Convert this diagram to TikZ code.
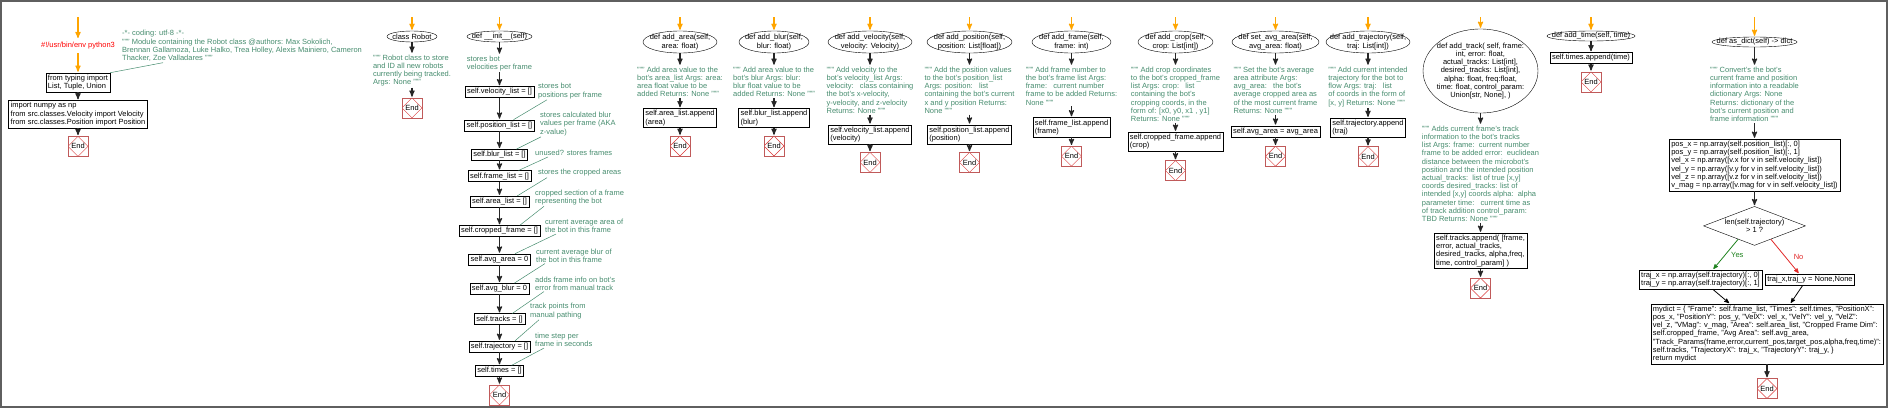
\documentclass[tikz,border=0pt]{standalone}
\usepackage{fontspec}
\setmainfont{Liberation Sans}
\usetikzlibrary{arrows,positioning,shapes.geometric,calc}
\definecolor{notegreen}{RGB}{70,140,110}
\definecolor{stopred}{RGB}{192,90,90}
\definecolor{startorange}{RGB}{255,165,0}
\definecolor{yesgreen}{RGB}{30,130,30}
\definecolor{nored}{RGB}{225,40,40}
\definecolor{framegray}{RGB}{95,95,95}

\begin{document}
\begin{tikzpicture}[x=1pt,y=-1pt,>=stealth',shorten >=1pt,
  font=\fontsize{7.5}{8.2}\selectfont,
  func node/.style={ellipse,draw,fill=white,align=center,inner sep=-30pt,minimum height=22pt},
  code box/.style={rectangle,draw,fill=white,align=left,inner xsep=2pt,inner ysep=2pt},
  one line/.style={text height=5.5pt,text depth=1.5pt},
  note text/.style={text=notegreen,align=left,inner sep=1pt},
  stop node/.style={rectangle,draw=stopred,minimum size=20pt,inner sep=0pt,
    path picture={\draw[stopred!60!red]
      (path picture bounding box.north) -- (path picture bounding box.east) --
      (path picture bounding box.south) -- (path picture bounding box.west) -- cycle;}},
  flow/.style={->,line width=1.2pt,black!85},
  start arrow/.style={->,line width=1.2pt,startorange},
  note line/.style={notegreen,line width=0.5pt,shorten >=0pt}]

  \useasboundingbox (0,0) rectangle (1891,410);
  \draw[framegray,line width=1.5pt] (1,1) rectangle (1887,407);

  % module head
  \coordinate (o1) at (78,17);
  \node[text=red] (shebang) at (78,46) {\#!/usr/bin/env python3};
  \node[code box] (imp1) at (78,82.5) {from typing import\\List, Tuple, Union};
  \node[code box] (imp2) [below=8pt of imp1] {import numpy as np\\from src.classes.Velocity import Velocity\\from src.classes.Position import Position};
  \node[stop node] (end1) [below=8pt of imp2] {End};
  \node[note text,anchor=west] (mhead) at (121,46) {-*- coding: utf-8 -*-\\""" Module containing the Robot class @authors: Max Sokolich,\\Brennan Gallamoza, Luke Halko, Trea Holley, Alexis Mainiero, Cameron\\Thacker, Zoe Valladares """};

  % class Robot
  \coordinate (o2) at (412,17);
  \node[func node,minimum width=50pt,minimum height=11pt] (robot) at (412,36.5) {class Robot};
  \node[note text] (mrobot) [below=11.5pt of robot] {""" Robot class to store\\and ID all new robots\\currently being tracked.\\Args: None """};
  \node[stop node] (end2) [below=10pt of mrobot] {End};

  % __init__
  \coordinate (o3) at (499.5,17);
  \node[func node,minimum width=65pt,minimum height=11pt] (init) at (499.5,36.5) {def \_\_init\_\_(self)};
  \node[note text] (minit) [below=12.5pt of init] {stores bot\\velocities per frame};
  \node[code box,one line] (vel) [below=14pt of minit] {self.velocity\_list = []};
  \node[code box,one line] (pos) [below=22pt of vel] {self.position\_list = []};
  \node[code box,one line] (blur) [below=18pt of pos] {self.blur\_list = []};
  \node[code box,one line] (frm) [below=10pt of blur] {self.frame\_list = []};
  \node[code box,one line] (area) [below=14pt of frm] {self.area\_list = []};
  \node[code box,one line] (crop) [below=18pt of area] {self.cropped\_frame = []};
  \node[code box,one line] (avga) [below=17pt of crop] {self.avg\_area = 0};
  \node[code box,one line] (avgb) [below=18pt of avga] {self.avg\_blur = 0};
  \node[code box,one line] (trk) [below=19pt of avgb] {self.tracks = []};
  \node[code box,one line] (traj) [below=16pt of trk] {self.trajectory = []};
  \node[code box,one line] (tms) [below=13pt of traj] {self.times = []};
  \node[stop node] (end3) [below=8pt of tms] {End};

  \node[note text,anchor=west] (npos) at (537,91) {stores bot\\positions per frame};
  \node[note text,anchor=west] (nblur) at (539,124) {stores calculated blur\\values per frame (AKA\\z-value)};
  \node[note text,anchor=west] (nfrm) at (534,153) {unused? stores frames};
  \node[note text,anchor=west] (narea) at (537,173) {stores the cropped areas};
  \node[note text,anchor=west] (ncrop) at (534,197.5) {cropped section of a frame\\representing the bot};
  \node[note text,anchor=west] (navga) at (544,226) {current average area of\\the bot in this frame};
  \node[note text,anchor=west] (navgb) at (535,255.5) {current average blur of\\the bot in this frame};
  \node[note text,anchor=west] (ntrk) at (534,283.5) {adds frame info on bot's\\error from manual track};
  \node[note text,anchor=west] (ntraj) at (529,311) {track points from\\manual pathing};
  \node[note text,anchor=west] (ntms) at (534,340) {time step per\\frame in seconds};

  % add_area
  \coordinate (o4) at (680,17);
  \node[func node,minimum width=74pt] (farea) at (680,42) {def add\_area(self,\\area: float)};
  \node[note text] (marea) [below=12.5pt of farea] {""" Add area value to the\\bot's area\_list Args: area:\\area float value to be\\added Returns: None """};
  \node[code box] (barea) [below=10pt of marea] {self.area\_list.append\\(area)};
  \node[stop node] (end4) [below=8pt of barea] {End};

  % add_blur
  \coordinate (o5) at (774,17);
  \node[func node,minimum width=70pt] (fblur) at (774,42) {def add\_blur(self,\\blur: float)};
  \node[note text] (mblur) [below=12.5pt of fblur] {""" Add area value to the\\bot's blur Args: blur:\\blur float value to be\\added Returns: None """};
  \node[code box] (bblur) [below=10pt of mblur] {self.blur\_list.append\\(blur)};
  \node[stop node] (end5) [below=8pt of bblur] {End};

  % add_velocity
  \coordinate (o6) at (870,17);
  \node[func node,minimum width=84pt] (fvel) at (870,42) {def add\_velocity(self,\\velocity: Velocity)};
  \node[note text] (mvel) [below=12.5pt of fvel] {""" Add velocity to the\\bot's velocity\_list Args:\\velocity:\ \ \ class containing\\the bot's x-velocity,\\y-velocity, and z-velocity\\Returns: None """};
  \node[code box] (bvel) [below=10pt of mvel] {self.velocity\_list.append\\(velocity)};
  \node[stop node] (end6) [below=8pt of bvel] {End};

  % add_position
  \coordinate (o7) at (969.5,17);
  \node[func node,minimum width=85pt] (fpos) at (969.5,42) {def add\_position(self,\\position: List[float])};
  \node[note text] (mpos) [below=12.5pt of fpos] {""" Add the position values\\to the bot's position\_list\\Args: position:\ \ \ list\\containing the bot's current\\x and y position Returns:\\None """};
  \node[code box] (bpos) [below=10pt of mpos] {self.position\_list.append\\(position)};
  \node[stop node] (end7) [below=8pt of bpos] {End};

  % add_frame
  \coordinate (o8) at (1071.5,17);
  \node[func node,minimum width=79pt] (ffrm) at (1071.5,42) {def add\_frame(self,\\frame: int)};
  \node[note text] (mfrm) [below=12.5pt of ffrm] {""" Add frame number to\\the bot's frame list Args:\\frame:\ \ \ current number\\frame to be added Returns:\\None """};
  \node[code box] (bfrm) [below=11pt of mfrm] {self.frame\_list.append\\(frame)};
  \node[stop node] (end8) [below=9pt of bfrm] {End};

  % add_crop
  \coordinate (o9) at (1175.5,17);
  \node[func node,minimum width=75pt] (fcrop) at (1175.5,42) {def add\_crop(self,\\crop: List[int])};
  \node[note text] (mcrop) [below=12.5pt of fcrop] {""" Add crop coordinates\\to the bot's cropped\_frame\\list Args: crop:\ \ \ list\\containing the bot's\\cropping coords, in the\\form of: [x0, y0, x1 , y1]\\Returns: None """};
  \node[code box] (bcrop) [below=9pt of mcrop] {self.cropped\_frame.append\\(crop)};
  \node[stop node] (end9) [below=9pt of bcrop] {End};

  % set_avg_area
  \coordinate (o10) at (1275.5,17);
  \node[func node,minimum width=87pt] (fsavg) at (1275.5,42) {def set\_avg\_area(self,\\avg\_area: float)};
  \node[note text] (msavg) [below=12.5pt of fsavg] {""" Set the bot's average\\area attribute Args:\\avg\_area:\ \ \ the bot's\\average cropped area as\\of the most current frame\\Returns: None """};
  \node[code box,one line] (bsavg) [below=11pt of msavg] {self.avg\_area = avg\_area};
  \node[stop node] (end10) [below=9pt of bsavg] {End};

  % add_trajectory
  \coordinate (o11) at (1368,17);
  \node[func node,minimum width=84pt] (ftraj) at (1368,42) {def add\_trajectory(self,\\traj: List[int])};
  \node[note text] (mtraj) [below=12.5pt of ftraj] {""" Add current intended\\trajectory for the bot to\\flow Args: traj:\ \ \ list\\of coords in the form of\\{[x, y]} Returns: None """};
  \node[code box] (btraj) [below=10pt of mtraj] {self.trajectory.append\\(traj)};
  \node[stop node] (end11) [below=9pt of btraj] {End};

  % add_track
  \coordinate (o12) at (1480.5,17);
  \node[func node,minimum width=115pt,minimum height=84pt] (ftrk) at (1480.5,71) {def add\_track( self, frame:\\int, error: float,\\actual\_tracks: List[int],\\desired\_tracks: List[int],\\alpha: float, freq:float,\\time: float, control\_param:\\Union[str, None], )};
  \node[note text] (mtrk) [below=11.5pt of ftrk] {""" Adds current frame's track\\information to the bot's tracks\\list Args: frame:\ \ current number\\frame to be added error:\ \ euclidean\\distance between the microbot's\\position and the intended position\\actual\_tracks:\ \ list of true [x,y]\\coords desired\_tracks: list of\\intended [x,y] coords alpha:\ \ alpha\\parameter time:\ \ \ current time as\\of track addition control\_param:\\TBD Returns: None """};
  \node[code box] (btrk) [below=10pt of mtrk] {self.tracks.append( [frame,\\error, actual\_tracks,\\desired\_tracks, alpha,freq,\\time, control\_param] )};
  \node[stop node] (end12) [below=9pt of btrk] {End};

  % add_time
  \coordinate (o13) at (1591,17);
  \node[func node,minimum width=88pt,minimum height=10pt] (ftime) at (1591,36) {def add\_time(self, time)};
  \node[code box,one line] (btime) [below=11pt of ftime] {self.times.append(time)};
  \node[stop node] (end13) [below=8pt of btime] {End};

  % as_dict
  \coordinate (o14) at (1754.5,17);
  \node[func node,minimum width=85pt,minimum height=10pt] (fdict) at (1754.5,42) {def as\_dict(self) -> dict};
  \node[note text] (mdict) [below=18.5pt of fdict] {""" Convert's the bot's\\current frame and position\\information into a readable\\dictionary Args: None\\Returns: dictionary of the\\bot's current position and\\frame information """};
  \node[code box] (bdict) [below=16pt of mdict] {pos\_x = np.array(self.position\_list)[:, 0]\\pos\_y = np.array(self.position\_list)[:, 1]\\vel\_x = np.array([v.x for v in self.velocity\_list])\\vel\_y = np.array([v.y for v in self.velocity\_list])\\vel\_z = np.array([v.z for v in self.velocity\_list])\\v\_mag = np.array([v.mag for v in self.velocity\_list])};
  \node[diamond,draw,aspect=2.6,inner sep=0pt,minimum width=102pt,minimum height=39pt,align=center] (dec) [below=15pt of bdict] {len(self.trajectory)\\> 1 ?};
  \node[code box] (yes) at (1700.5,279.5) {traj\_x = np.array(self.trajectory)[:, 0]\\traj\_y = np.array(self.trajectory)[:, 1]};
  \node[code box,one line] (no) at (1810,279.5) {traj\_x,traj\_y = None,None};
  \node[code box] (mydict) at (1767,334) {mydict = \{ "Frame": self.frame\_list, "Times": self.times, "PositionX":\\pos\_x, "PositionY": pos\_y, "VelX": vel\_x, "VelY": vel\_y, "VelZ":\\vel\_z, "VMag": v\_mag, "Area": self.area\_list, "Cropped Frame Dim":\\self.cropped\_frame, "Avg Area": self.avg\_area,\\"Track\_Params(frame,error,current\_pos,target\_pos,alpha,freq,time)":\\self.tracks, "TrajectoryX": traj\_x, "TrajectoryY": traj\_y, \}\\return mydict};
  \node[stop node] (end14) [below=14pt of mydict] {End};

  \path[start arrow]
      (o1) edge (shebang)
      (shebang) edge (imp1)
      (o2) edge (robot)
      (o3) edge (init)
      (o4) edge (farea)
      (o5) edge (fblur)
      (o6) edge (fvel)
      (o7) edge (fpos)
      (o8) edge (ffrm)
      (o9) edge (fcrop)
      (o10) edge (fsavg)
      (o11) edge (ftraj)
      (o12) edge (ftrk)
      (o13) edge (ftime)
      (o14) edge (fdict);

  \path[flow]
      (imp1) edge (imp2)
      (imp2) edge (end1)

      (robot) edge (mrobot)
      (mrobot) edge (end2)

      (init) edge (minit)
      (minit) edge (vel)
      (vel) edge (pos)
      (pos) edge (blur)
      (blur) edge (frm)
      (frm) edge (area)
      (area) edge (crop)
      (crop) edge (avga)
      (avga) edge (avgb)
      (avgb) edge (trk)
      (trk) edge (traj)
      (traj) edge (tms)
      (tms) edge (end3)

      (farea) edge (marea)
      (marea) edge (barea)
      (barea) edge (end4)
      (fblur) edge (mblur)
      (mblur) edge (bblur)
      (bblur) edge (end5)
      (fvel) edge (mvel)
      (mvel) edge (bvel)
      (bvel) edge (end6)
      (fpos) edge (mpos)
      (mpos) edge (bpos)
      (bpos) edge (end7)
      (ffrm) edge (mfrm)
      (mfrm) edge (bfrm)
      (bfrm) edge (end8)
      (fcrop) edge (mcrop)
      (mcrop) edge (bcrop)
      (bcrop) edge (end9)
      (fsavg) edge (msavg)
      (msavg) edge (bsavg)
      (bsavg) edge (end10)
      (ftraj) edge (mtraj)
      (mtraj) edge (btraj)
      (btraj) edge (end11)
      (ftrk) edge (mtrk)
      (mtrk) edge (btrk)
      (btrk) edge (end12)
      (ftime) edge (btime)
      (btime) edge (end13)

      (fdict) edge (mdict)
      (mdict) edge (bdict)
      (bdict) edge (dec)
      (mydict) edge (end14);

  \path[->,line width=0.8pt]
      ($(dec.west)!.68!(dec.south)$) edge[yesgreen] node[right=2pt,text=yesgreen] {Yes} ($(yes.north west)!.6!(yes.north east)$)
      ($(dec.east)!.68!(dec.south)$) edge[nored] node[right=5pt,text=nored] {No} ($(no.north west)!.38!(no.north east)$)
      ($(yes.south west)!.6!(yes.south east)$) edge ($(mydict.north west)!.34!(mydict.north east)$)
      ($(no.south west)!.42!(no.south east)$) edge ($(mydict.north west)!.6!(mydict.north east)$);

  \path[note line]
      ([xshift=42pt]mhead.south west) edge (imp1.north east)
      ([xshift=10pt]npos.south west) edge ($(pos.north west)!.7!(pos.north east)$)
      ([xshift=2pt]nblur.south west) edge ($(blur.north west)!.8!(blur.north east)$)
      ([xshift=14pt]nfrm.south west) edge ($(frm.north west)!.8!(frm.north east)$)
      ([xshift=10pt]narea.south west) edge ($(area.north west)!.8!(area.north east)$)
      ([xshift=10pt]ncrop.south west) edge ($(crop.north west)!.75!(crop.north east)$)
      ([xshift=12pt]navga.south west) edge ($(avga.north west)!.75!(avga.north east)$)
      ([xshift=10pt]navgb.south west) edge ($(avgb.north west)!.75!(avgb.north east)$)
      ([xshift=10pt]ntrk.south west) edge ($(trk.north west)!.75!(trk.north east)$)
      ([xshift=10pt]ntraj.south west) edge ($(traj.north west)!.75!(traj.north east)$)
      ([xshift=10pt]ntms.south west) edge ($(tms.north west)!.75!(tms.north east)$);
\end{tikzpicture}
\end{document}
